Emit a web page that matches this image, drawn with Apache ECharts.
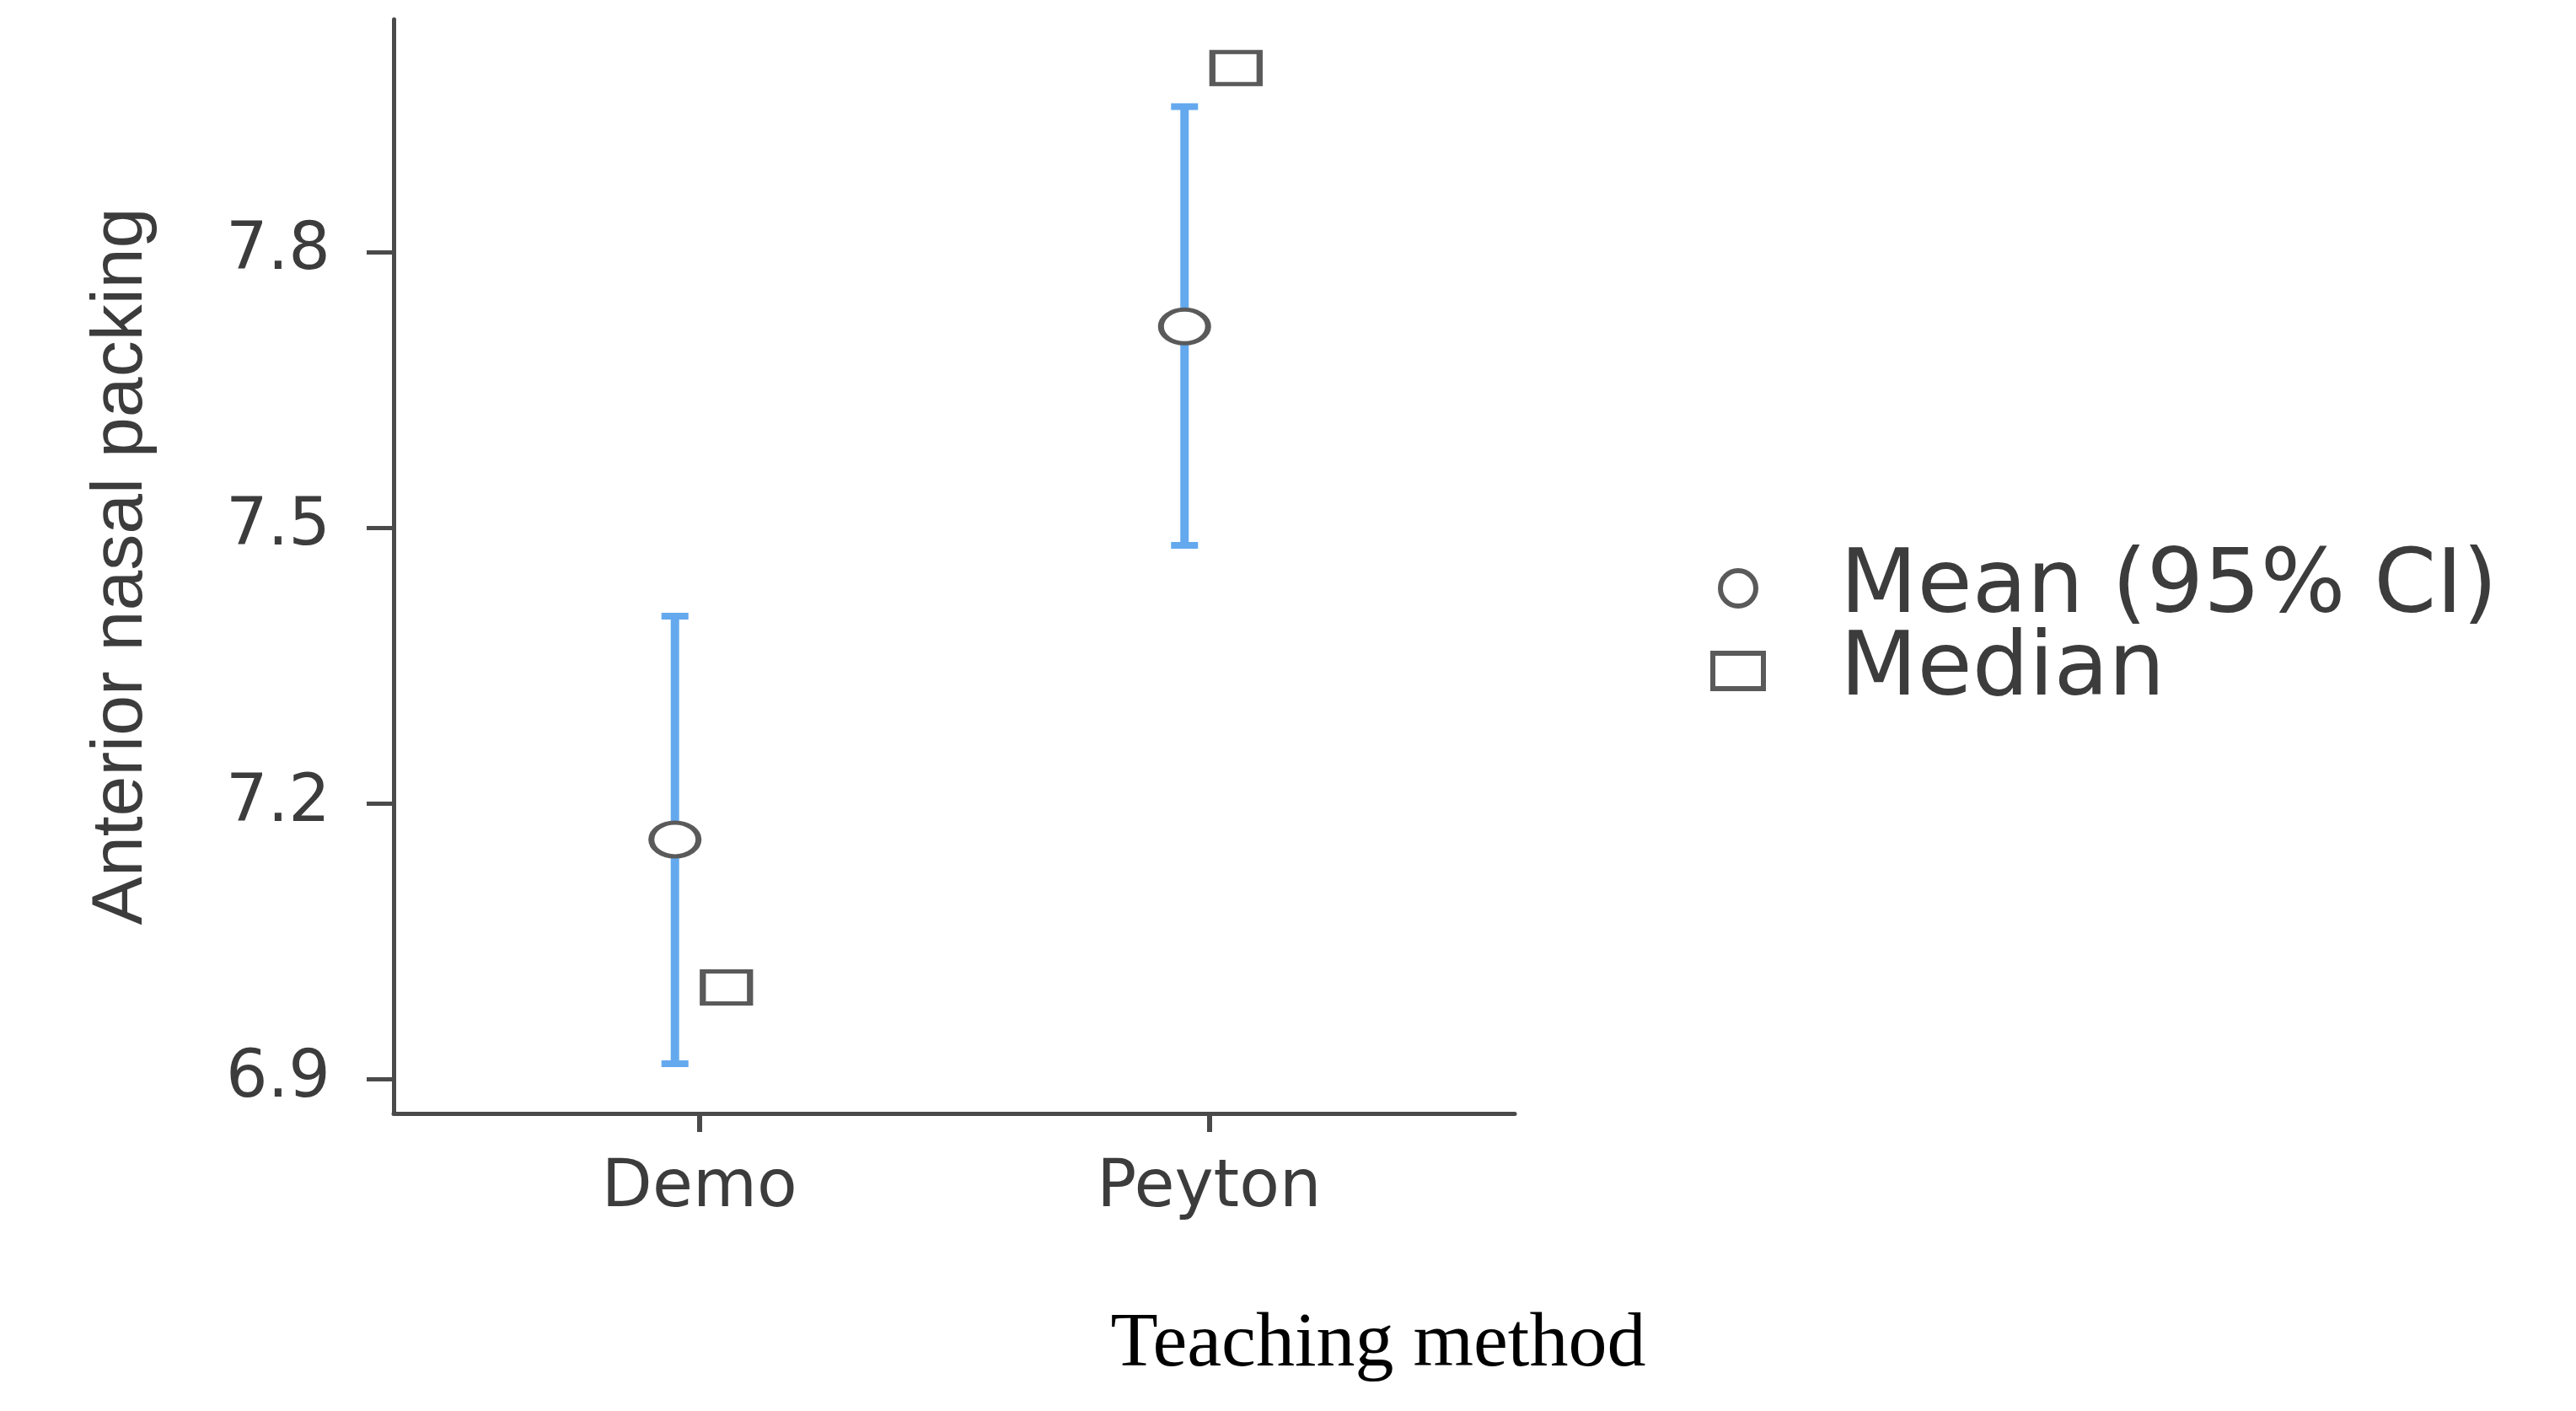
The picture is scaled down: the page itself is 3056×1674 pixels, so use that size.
<!DOCTYPE html>
<html>
<head>
<meta charset="utf-8">
<script src="https://cdn.jsdelivr.net/npm/echarts@6/dist/echarts.min.js"></script>
<style>
html,body{margin:0;padding:0;background:#fff;}
#chart{width:3056px;height:1674px;}
</style>
</head>
<body>
<div id="chart"></div>
<script>
// ---- data ----
const categories = ['Demo', 'Peyton'];
const means = [7.161, 7.719];
const ciLower = [6.917, 7.481];
const ciUpper = [7.404, 7.958];
const medians = [7.0, 8.0];
const yTicks = [6.9, 7.2, 7.5, 7.8];
const seriesNames = ['Mean (95% CI)', 'Median'];

// ---- layout constants ----
const MEAN_DODGE = -0.048;
const MEDIAN_DODGE = 0.053;
const catPos = categories.map((c, i) => i + 1);

const errData = categories.map((c, i) => [catPos[i] + MEAN_DODGE, ciLower[i], ciUpper[i]]);
const meanData = categories.map((c, i) => [catPos[i] + MEAN_DODGE, means[i]]);
const medianData = categories.map((c, i) => [catPos[i] + MEDIAN_DODGE, medians[i]]);

const chart = echarts.init(document.getElementById('chart'), null, {renderer: 'canvas'});
const axisColor = '#4a4a4a';
const textColor = '#3c3c3c';
const barColor = '#64a9ee';

chart.setOption({
  animation: false,
  backgroundColor: '#ffffff',
  title: {
    text: 'Teaching method',
    left: 1630,
    textAlign: 'center',
    top: 1545,
    textStyle: {fontFamily: 'Liberation Serif', fontSize: 92, fontWeight: 'normal', color: '#000'}
  },
  grid: {left: 467, right: 1259, top: 23, bottom: 353, containLabel: false},
  legend: {
    orient: 'vertical',
    left: 2024,
    top: 640,
    itemWidth: 60,
    itemHeight: 42,
    itemGap: -8,
    symbolKeepAspect: false,
    data: seriesNames,
    itemStyle: {borderWidth: 6},
    textStyle: {fontFamily: 'DejaVu Sans', fontSize: 106, color: textColor, padding: [0, 0, 0, 86]}
  },
  xAxis: {
    type: 'value',
    min: 0.4,
    max: 2.6,
    splitLine: {show: false},
    axisLine: {show: true, onZero: false, lineStyle: {color: axisColor, width: 5}},
    axisTick: {show: true, customValues: catPos, length: 22, lineStyle: {color: axisColor, width: 6}},
    axisLabel: {
      customValues: catPos,
      margin: 51,
      fontFamily: 'DejaVu Sans',
      fontSize: 78,
      color: textColor,
      formatter: v => categories[Math.round(v) - 1] || ''
    }
  },
  yAxis: {
    type: 'value',
    min: 6.863,
    max: 8.053,
    name: 'Anterior nasal packing',
    nameLocation: 'middle',
    nameRotate: 90,
    nameGap: 280,
    nameTextStyle: {fontFamily: 'Liberation Sans', fontSize: 86, color: textColor},
    splitLine: {show: false},
    axisLine: {show: true, onZero: false, lineStyle: {color: axisColor, width: 5}},
    axisTick: {show: true, customValues: yTicks, length: 32, lineStyle: {color: axisColor, width: 5}},
    axisLabel: {
      customValues: yTicks,
      margin: 75,
      fontFamily: 'DejaVu Sans',
      fontSize: 78,
      color: textColor,
      formatter: v => v.toFixed(1)
    }
  },
  series: [
    {
      type: 'custom',
      name: 'ci',
      data: errData,
      z: 2,
      silent: true,
      renderItem: function (params, api) {
        const x = api.value(0);
        const lo = api.coord([x, api.value(1)]);
        const hi = api.coord([x, api.value(2)]);
        const hw = 16;
        const st = {stroke: barColor, lineWidth: 10};
        const cap = {stroke: barColor, lineWidth: 8};
        return {
          type: 'group',
          children: [
            {type: 'line', shape: {x1: lo[0], y1: lo[1], x2: hi[0], y2: hi[1]}, style: st},
            {type: 'line', shape: {x1: lo[0] - hw, y1: lo[1], x2: lo[0] + hw, y2: lo[1]}, style: cap},
            {type: 'line', shape: {x1: hi[0] - hw, y1: hi[1], x2: hi[0] + hw, y2: hi[1]}, style: cap}
          ]
        };
      },
      encode: {x: 0, y: [1, 2]}
    },
    {
      type: 'scatter',
      name: seriesNames[0],
      data: meanData,
      z: 3,
      symbol: 'circle',
      symbolSize: [56, 40],
      itemStyle: {color: '#ffffff', borderColor: '#5a5a5a', borderWidth: 6, opacity: 1}
    },
    {
      type: 'scatter',
      name: seriesNames[1],
      data: medianData,
      z: 3,
      symbol: 'rect',
      symbolSize: [56, 38],
      itemStyle: {color: '#ffffff', borderColor: '#5a5a5a', borderWidth: 6, opacity: 1}
    }
  ]
});
</script>
</body>
</html>
